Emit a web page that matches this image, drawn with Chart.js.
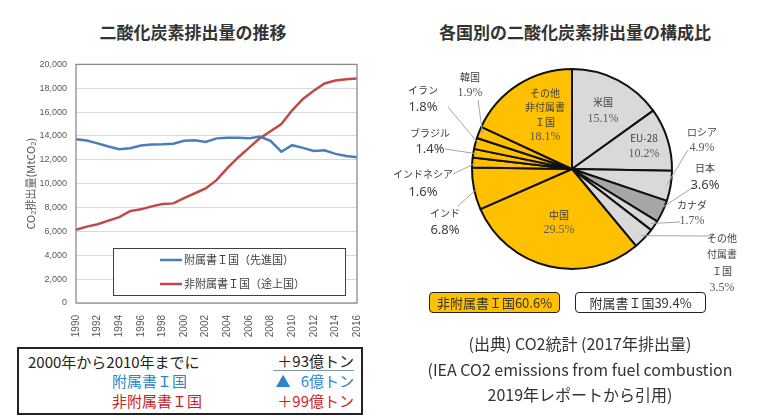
<!DOCTYPE html>
<html lang="ja">
<head>
<meta charset="utf-8">
<title>二酸化炭素排出量</title>
<script src="https://cdn.jsdelivr.net/npm/chart.js@4.4.1/dist/chart.umd.min.js"></script>
<style>
  html, body { margin: 0; padding: 0; background: #fff; }
  body { width: 772px; height: 420px; position: relative; overflow: hidden;
         font-family: "Noto Sans CJK JP", "Noto Sans", sans-serif; color: #333; }
  .title { position: absolute; top: 19px; font-size: 17px; font-weight: bold; color: #333; text-align: center; }
  #lineWrap { position: absolute; left: 0; top: 50px; width: 380px; height: 293px; }
  #pieWrap { position: absolute; left: 390px; top: 60px; width: 382px; height: 236px; }
  #summary { position: absolute; left: 17px; top: 347px; width: 342px; height: 64px;
             border: 2px solid #222; font-size: 15px; line-height: 20px; }
  #summary div { position: absolute; white-space: nowrap; }
  .pbox { position: absolute; top: 292px; height: 19px; border: 1.5px solid #222; border-radius: 4px;
          font-size: 13px; line-height: 19px; text-align: center; color: #333; }
  #caption { position: absolute; left: 398px; top: 331px; width: 364px; text-align: center;
             font-size: 16px; line-height: 25.5px; color: #333; }
</style>
</head>
<body>
<div class="title" style="left:80px;width:226px;">二酸化炭素排出量の推移</div>
<div class="title" style="left:420px;width:310px;">各国別の二酸化炭素排出量の構成比</div>

<div id="lineWrap"><canvas id="lineChart"></canvas></div>
<div id="pieWrap"><canvas id="pieChart"></canvas></div>

<div id="summary">
  <div style="left:9px;top:3px;color:#222;">2000年から2010年までに</div>
  <div style="right:7px;top:3px;color:#222;border-bottom:1.5px solid #8497b0;line-height:18px;padding-left:4px;">＋93億トン</div>
  <div style="left:93px;top:22px;color:#2e86c8;">附属書Ｉ国</div>
  <div style="right:7px;top:22px;color:#2e86c8;">▲&nbsp;&nbsp;&nbsp;6億トン</div>
  <div style="left:93px;top:42px;color:#c8232b;">非附属書Ｉ国</div>
  <div style="right:7px;top:42px;color:#c8232b;">＋99億トン</div>
</div>

<div class="pbox" style="left:429px;width:129px;background:#FFC000;">非附属書Ｉ国60.6%</div>
<div class="pbox" style="left:575px;width:129px;background:#fff;">附属書Ｉ国39.4%</div>

<div id="caption">
  (出典) CO2統計 (2017年排出量)<br>
  (IEA CO2 emissions from fuel combustion<br>
  2019年レポートから引用)
</div>

<script>
// ---- data ----
const years = ['1990', '1991', '1992', '1993', '1994', '1995', '1996', '1997', '1998', '1999',
               '2000', '2001', '2002', '2003', '2004', '2005', '2006', '2007', '2008', '2009',
               '2010', '2011', '2012', '2013', '2014', '2015', '2016'];
const annexI = [13730, 13620, 13380, 13120, 12890, 12980, 13200, 13290, 13300, 13350,
                13600, 13650, 13500, 13800, 13850, 13850, 13800, 13950, 13600, 12680,
                13230, 13000, 12750, 12800, 12500, 12320, 12220];
const nonAnnexI = [6140, 6400, 6600, 6900, 7200, 7700, 7850, 8100, 8300, 8350,
                   8800, 9200, 9600, 10300, 11300, 12200, 13000, 13800, 14400, 15000,
                   16150, 17100, 17800, 18400, 18650, 18750, 18820];
const seriesNames = ['附属書Ｉ国（先進国）', '非附属書Ｉ国（途上国）'];
const yTicks = [0, 2000, 4000, 6000, 8000, 10000, 12000, 14000, 16000, 18000, 20000];

const countries = ['米国', 'EU-28', 'ロシア', '日本', 'カナダ', 'その他附属書Ｉ国',
                   '中国', 'インド', 'インドネシア', 'ブラジル', 'イラン', '韓国', 'その他非附属書Ｉ国'];
const shares = [15.1, 10.2, 4.9, 3.6, 1.7, 3.5, 29.5, 6.8, 1.6, 1.4, 1.8, 1.9, 18.1];
const isAnnexI = [true, true, true, true, true, true, false, false, false, false, false, false, false];

// ---- line chart ----
const BLUE = '#4A7EBB';
const RED = '#BE4B48';

const frame = {
    id: 'frame',
    afterDatasetsDraw(chart) {
        const { ctx, chartArea: a } = chart;
        ctx.save();
        ctx.strokeStyle = '#8c8c8c';
        ctx.lineWidth = 1.3;
        ctx.strokeRect(a.left, a.top, a.right - a.left, a.bottom - a.top);

        // legend box inside the plot
        const bx = 113, by = 198, bw = 232, bh = 47;
        ctx.fillStyle = '#fff';
        ctx.fillRect(bx, by, bw, bh);
        ctx.strokeStyle = '#404040';
        ctx.lineWidth = 1;
        ctx.strokeRect(bx + 0.5, by + 0.5, bw, bh);
        ctx.font = '11px "Noto Sans CJK JP", sans-serif';
        ctx.textBaseline = 'middle';
        chart.data.datasets.forEach((ds, i) => {
            const y = by + 12 + i * 24;
            ctx.strokeStyle = ds.borderColor;
            ctx.lineWidth = 2.5;
            ctx.beginPath();
            ctx.moveTo(160, y);
            ctx.lineTo(182, y);
            ctx.stroke();
            ctx.fillStyle = '#404040';
            ctx.fillText(ds.label, 184, y);
        });
        ctx.restore();
    }
};

new Chart(document.getElementById('lineChart'), {
    type: 'line',
    data: {
        labels: years,
        datasets: [
            { label: seriesNames[0], data: annexI, borderColor: BLUE, borderWidth: 2.5, pointRadius: 0, tension: 0 },
            { label: seriesNames[1], data: nonAnnexI, borderColor: RED, borderWidth: 2.5, pointRadius: 0, tension: 0 }
        ]
    },
    options: {
        responsive: true,
        maintainAspectRatio: false,
        animation: false,
        layout: { padding: { left: 24, right: 23, top: 10, bottom: 0 } },
        plugins: { legend: { display: false }, tooltip: { enabled: false } },
        scales: {
            x: {
                offset: false,
                grid: { display: false },
                border: { display: false },
                ticks: {
                    autoSkip: false,
                    minRotation: 90,
                    maxRotation: 90,
                    padding: 4,
                    color: '#595959',
                    font: { size: 10, family: 'Liberation Sans, sans-serif' },
                    callback: function (val, idx) {
                        return idx % 2 === 0 ? this.getLabelForValue(val) : '';
                    }
                },
                afterFit(scale) { scale.height = 40; }
            },
            y: {
                min: 0,
                max: 20000,
                afterBuildTicks(scale) { scale.ticks = yTicks.map(v => ({ value: v })); },
                grid: { color: '#d9d9d9', drawTicks: false },
                border: { display: false },
                ticks: {
                    padding: 9,
                    color: '#595959',
                    font: { size: 9, family: 'Liberation Sans, sans-serif' },
                    callback: v => v.toLocaleString('en-US')
                },
                title: {
                    display: true,
                    text: 'CO₂排出量(MtCO₂)',
                    color: '#595959',
                    padding: 0,
                    font: { size: 11, family: '"Noto Sans CJK JP", sans-serif' }
                },
                afterFit(scale) { scale.width = 52; }
            }
        }
    },
    plugins: [frame]
});

// ---- pie chart ----
// label placement, pixel offsets from the pie centre (radius ~100)
const pieLabelLayout = [
    { lines: ['米国', '15.1%'], x: 31, y: -67, gap: 17, serif: true },
    { lines: ['EU-28', '10.2%'], x: 72, y: -31, gap: 16, serif: true },
    { lines: ['ロシア', '4.9%'], x: 130, y: -37, gap: 16, serif: true, lead: [116, -19] },
    { lines: ['日本', '3.6%'], x: 133, y: -1, gap: 17, lead: [123, 17] },
    { lines: ['カナダ', '1.7%'], x: 120, y: 36, gap: 16, serif: true, lead: [108, 53] },
    { lines: ['その他', '付属書', 'Ｉ国', '3.5%'], x: 150, y: 69, gap: 16.5, serif: true, lead: [140, 67] },
    { lines: ['中国', '29.5%'], x: -13, y: 46, gap: 15, serif: true },
    { lines: ['インド', '6.8%'], x: -127, y: 44, gap: 17, lead: [-114, 37] },
    { lines: ['インドネシア', '1.6%'], x: -149, y: 5, gap: 18, lead: [-119, 5] },
    { lines: ['ブラジル', '1.4%'], x: -142, y: -36, gap: 16, lead: [-127, -20] },
    { lines: ['イラン', '1.8%'], x: -149, y: -79, gap: 17, lead: [-124, -62] },
    { lines: ['韓国', '1.9%'], x: -102, y: -92, gap: 16, serif: true, lead: [-94, -69] },
    { lines: ['その他', '非付属書', 'Ｉ国', '18.1%'], x: -27, y: -76, gap: 14.7, serif: true }
];

const pieLabels = {
    id: 'pieLabels',
    afterDatasetsDraw(chart) {
        const ctx = chart.ctx;
        const arcs = chart.getDatasetMeta(0).data;
        ctx.save();
        ctx.textAlign = 'center';
        ctx.textBaseline = 'middle';
        arcs.forEach((arc, i) => {
            const lay = pieLabelLayout[i];
            const k = arc.outerRadius / 100;
            const cx = arc.x, cy = arc.y;
            const mid = (arc.startAngle + arc.endAngle) / 2;
            if (lay.lead) {
                ctx.strokeStyle = '#a6a6a6';
                ctx.lineWidth = 1;
                ctx.beginPath();
                ctx.moveTo(cx + Math.cos(mid) * arc.outerRadius * 0.96, cy + Math.sin(mid) * arc.outerRadius * 0.96);
                ctx.lineTo(cx + lay.lead[0] * k, cy + lay.lead[1] * k);
                ctx.stroke();
            }
            const n = lay.lines.length;
            lay.lines.forEach((t, j) => {
                const isPct = j === n - 1;
                if (isPct && lay.serif) {
                    ctx.font = '12px "Liberation Serif", serif';
                    ctx.fillStyle = '#595959';
                } else if (isPct) {
                    ctx.font = '13px "Noto Sans", sans-serif';
                    ctx.fillStyle = '#404040';
                } else {
                    ctx.font = '10px "Noto Sans CJK JP", sans-serif';
                    ctx.fillStyle = '#404040';
                }
                ctx.fillText(t, cx + lay.x * k, cy + lay.y * k + j * lay.gap);
            });
        });
        ctx.restore();
    }
};

new Chart(document.getElementById('pieChart'), {
    type: 'pie',
    data: {
        labels: countries,
        datasets: [{
            data: shares,
            backgroundColor: countries.map((c, i) => c === '日本' ? '#A6A6A6' : (isAnnexI[i] ? '#D9D9D9' : '#FFC000')),
            borderColor: '#111',
            borderWidth: 2
        }]
    },
    options: {
        responsive: true,
        maintainAspectRatio: false,
        animation: false,
        layout: { padding: { left: 81, right: 99, top: 8, bottom: 26 } },
        plugins: { legend: { display: false }, tooltip: { enabled: false } }
    },
    plugins: [pieLabels]
});
</script>
</body>
</html>
